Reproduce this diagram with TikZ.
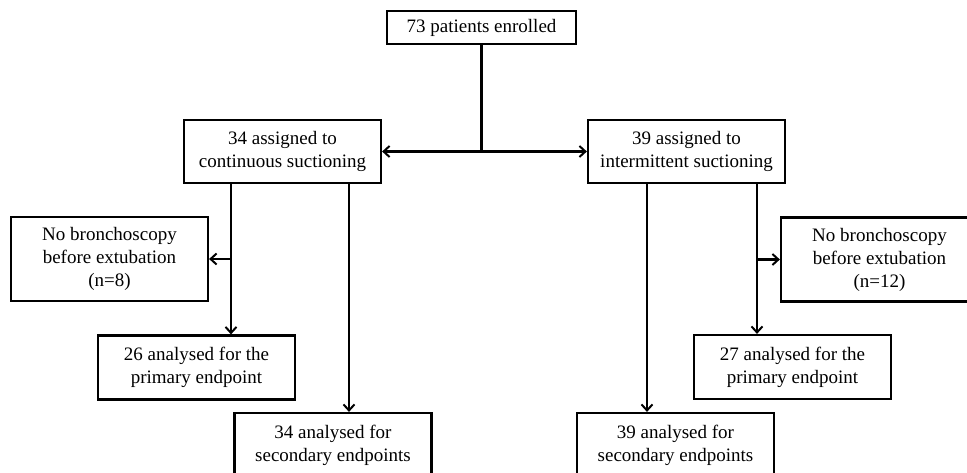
\documentclass[tikz,border=0pt]{standalone}
\usepackage{fontspec}
\setmainfont{Liberation Serif}
\usetikzlibrary{arrows.meta}
\tikzset{
  fbox/.style={draw, line width=2.2pt, align=center, inner sep=0pt,
    minimum width=197pt, minimum height=63pt,
    font=\fontsize{19}{23}\selectfont},
  conn/.style={line width=2.2pt},
  arr/.style={conn, -{Straight Barb[length=6pt,width=11pt,line width=2pt]}}
}
\begin{document}
\begin{tikzpicture}[x=1pt,y=-1pt]
\useasboundingbox (0,0) rectangle (967,473);
\clip (0,0) rectangle (967,473);
\node[fbox, minimum width=189pt, minimum height=33pt] (top) at (481.5,27.5) {73 patients enrolled};
\node[fbox] (A) at (282.5,151.5) {34 assigned to\\continuous suctioning};
\node[fbox] (B) at (686.5,151.5) {39 assigned to\\intermittent suctioning};
\node[fbox, minimum height=84pt] (NL) at (109.5,259) {No bronchoscopy\\before extubation\\(n=8)};
\node[fbox, minimum height=84pt] (NR) at (879.5,259.5) {No bronchoscopy\\before extubation\\(n=12)};
\node[fbox, minimum height=64pt] (PL) at (196.5,367.5) {26 analysed for the\\primary endpoint};
\node[fbox, minimum height=64pt] (PR) at (792.5,367) {27 analysed for the\\primary endpoint};
\node[fbox, minimum height=64pt] (SL) at (333,445) {34 analysed for\\secondary endpoints};
\node[fbox, minimum height=64pt] (SR) at (675.5,445) {39 analysed for\\secondary endpoints};
% top split
\coordinate (j) at (top.south |- A.east);
\draw[conn] (top.south) -- (j);
\draw[arr] (j) -- (A.east);
\draw[arr] (j) -- (B.west);
% left branch
\coordinate (a1) at (231,0);
\coordinate (a2) at (349,0);
\draw[arr] (a1 |- A.south) -- (a1 |- PL.north);
\draw[arr] (a1 |- NL.east) -- (NL.east);
\draw[arr] (a2 |- A.south) -- (a2 |- SL.north);
% right branch
\coordinate (b1) at (647,0);
\coordinate (b2) at (757,0);
\draw[arr] (b1 |- B.south) -- (b1 |- SR.north);
\draw[arr] (b2 |- B.south) -- (b2 |- PR.north);
\draw[arr] (b2 |- NR.west) -- (NR.west);
\end{tikzpicture}
\end{document}
